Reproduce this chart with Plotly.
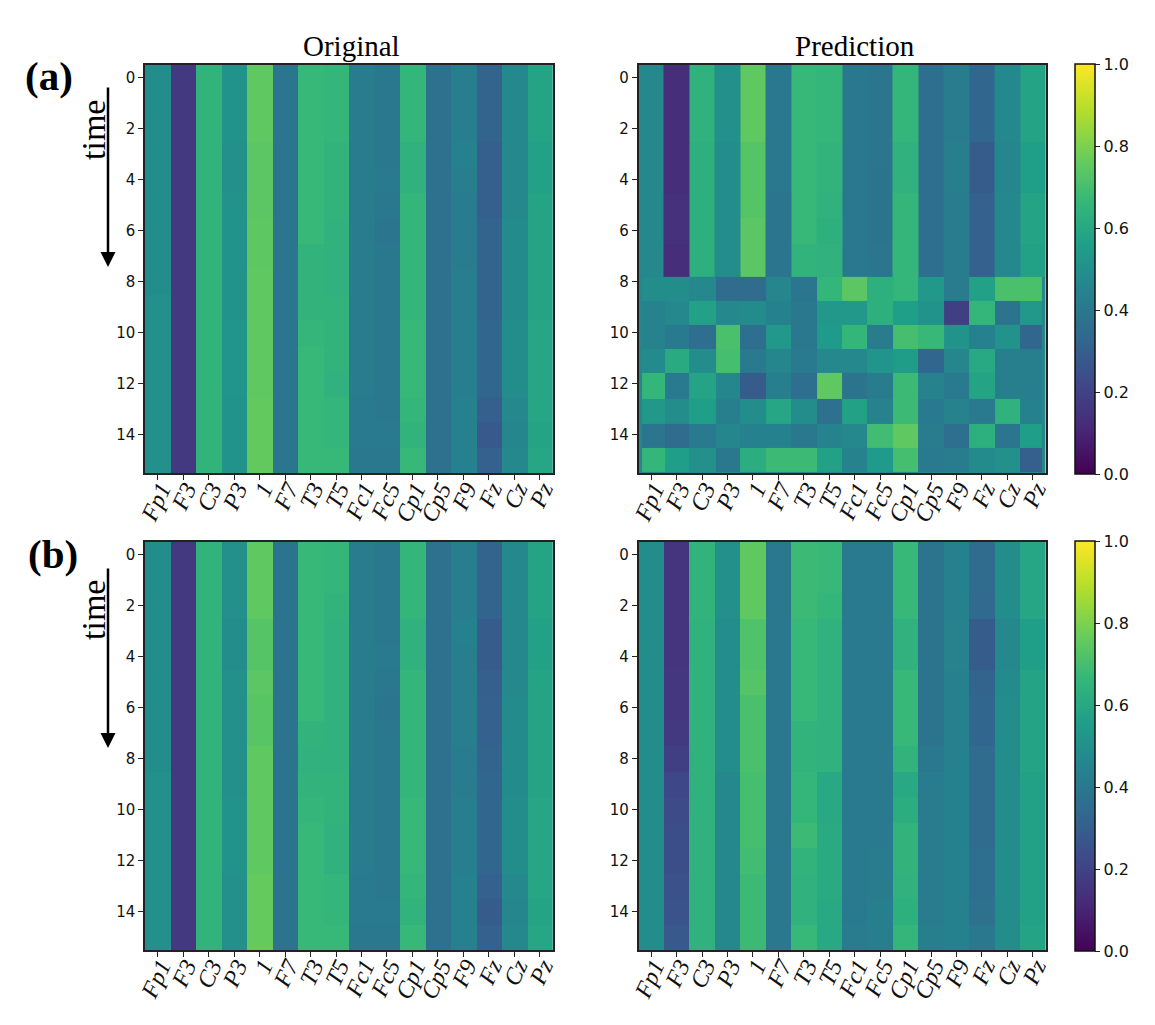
import plotly.graph_objects as go

channels = ["Fp1","F3","C3","P3","1","F7","T3","T5","Fc1","Fc5","Cp1","Cp5","F9","Fz","Cz","Pz"]
time_ticks = [0,2,4,6,8,10,12,14]
cbar_ticks = [0,0.2,0.4,0.6,0.8,1.0]

original_a = [
 [.49,.17,.65,.51,.75,.39,.67,.66,.42,.40,.66,.37,.43,.32,.47,.58],
 [.49,.17,.65,.51,.75,.39,.67,.66,.42,.40,.66,.37,.43,.32,.47,.58],
 [.49,.17,.65,.51,.75,.39,.67,.66,.42,.40,.66,.37,.43,.32,.47,.58],
 [.49,.17,.65,.50,.74,.39,.67,.65,.42,.40,.64,.37,.44,.30,.47,.57],
 [.49,.17,.65,.50,.74,.39,.67,.65,.42,.41,.64,.37,.43,.30,.47,.57],
 [.49,.17,.65,.51,.74,.39,.67,.65,.42,.40,.66,.37,.42,.30,.47,.58],
 [.49,.17,.65,.51,.745,.39,.67,.64,.42,.39,.66,.37,.42,.32,.48,.58],
 [.49,.17,.65,.51,.745,.39,.65,.64,.42,.40,.66,.37,.42,.32,.48,.58],
 [.49,.17,.65,.51,.75,.39,.65,.64,.42,.40,.66,.37,.43,.32,.48,.58],
 [.50,.17,.65,.51,.75,.39,.65,.65,.42,.40,.66,.37,.43,.32,.48,.58],
 [.50,.17,.65,.52,.75,.39,.66,.65,.42,.40,.67,.37,.43,.33,.49,.59],
 [.50,.17,.65,.52,.75,.39,.67,.65,.42,.40,.67,.37,.43,.33,.49,.59],
 [.50,.17,.65,.52,.75,.39,.67,.64,.42,.40,.67,.37,.43,.33,.49,.59],
 [.50,.17,.65,.51,.755,.39,.67,.66,.41,.40,.66,.37,.44,.30,.47,.59],
 [.50,.17,.65,.51,.755,.39,.67,.66,.41,.41,.65,.37,.44,.28,.46,.58],
 [.50,.17,.65,.51,.755,.39,.67,.67,.40,.40,.67,.37,.44,.31,.47,.59],
]

pred_a_upper = [
 [.47,.13,.64,.50,.75,.40,.67,.66,.40,.39,.66,.36,.42,.33,.47,.58],
 [.47,.13,.64,.50,.75,.40,.67,.66,.40,.39,.66,.36,.42,.33,.47,.58],
 [.47,.13,.64,.50,.75,.40,.67,.66,.40,.39,.66,.36,.42,.33,.47,.58],
 [.47,.13,.63,.49,.73,.40,.67,.65,.40,.39,.64,.36,.43,.29,.46,.56],
 [.47,.13,.63,.49,.73,.40,.67,.65,.40,.38,.64,.36,.43,.29,.46,.56],
 [.47,.14,.63,.49,.73,.39,.67,.64,.40,.38,.66,.36,.42,.31,.47,.58],
 [.47,.14,.63,.49,.74,.39,.67,.63,.40,.38,.66,.36,.42,.31,.47,.58],
 [.47,.13,.63,.49,.74,.39,.65,.64,.40,.39,.66,.36,.42,.31,.47,.57],
]
pred_a_lower = [
 [.49,.49,.47,.35,.35,.46,.39,.66,.74,.63,.66,.53,.42,.57,.71,.71],
 [.45,.47,.57,.47,.48,.44,.40,.53,.53,.63,.56,.51,.19,.66,.38,.53],
 [.45,.41,.36,.71,.36,.53,.40,.54,.66,.42,.70,.67,.51,.44,.51,.33],
 [.48,.61,.49,.70,.41,.46,.41,.47,.47,.52,.55,.33,.46,.60,.43,.43],
 [.66,.41,.58,.46,.29,.43,.36,.75,.38,.42,.68,.45,.41,.58,.43,.43],
 [.53,.49,.56,.43,.49,.59,.49,.37,.57,.45,.68,.41,.45,.41,.64,.44],
 [.39,.35,.41,.46,.44,.44,.40,.45,.47,.69,.75,.42,.36,.63,.39,.56],
 [.66,.56,.50,.40,.62,.68,.68,.57,.45,.54,.70,.41,.42,.48,.50,.30],
]
pred_a_upper_rows = [-0.5,0.5,1.5,2.5,3.5,4.5,5.5,6.5,7.81]
pred_a_upper_cols = [-0.5,0.5,1.5,2.5,3.5,4.5,5.5,6.5,7.5,8.5,9.5,10.5,11.5,12.5,13.5,14.5,15.5]
pred_a_lower_rows = [7.81,8.74,9.69,10.64,11.59,12.61,13.56,14.51,15.45]
pred_a_lower_cols = [-0.36,0.55,1.5,2.55,3.5,4.5,5.5,6.5,7.5,8.5,9.5,10.5,11.5,12.5,13.5,14.5,15.35]

original_b = [
 [.49,.17,.65,.50,.75,.38,.67,.66,.42,.40,.66,.37,.43,.32,.47,.58],
 [.49,.17,.65,.50,.75,.38,.67,.66,.42,.40,.66,.37,.43,.32,.47,.58],
 [.49,.17,.65,.50,.75,.38,.67,.65,.42,.40,.66,.37,.43,.32,.47,.58],
 [.49,.17,.65,.49,.73,.38,.67,.64,.42,.40,.64,.37,.44,.29,.47,.57],
 [.49,.17,.65,.49,.73,.38,.67,.64,.42,.41,.64,.37,.43,.29,.47,.57],
 [.49,.17,.65,.50,.74,.38,.67,.64,.42,.40,.66,.37,.43,.30,.47,.58],
 [.49,.17,.65,.50,.735,.38,.67,.64,.42,.39,.66,.37,.43,.31,.48,.58],
 [.49,.17,.65,.50,.735,.38,.65,.64,.42,.40,.66,.37,.43,.31,.48,.58],
 [.49,.17,.65,.50,.75,.38,.64,.64,.42,.40,.66,.37,.42,.32,.48,.58],
 [.50,.17,.65,.50,.75,.38,.65,.65,.42,.40,.66,.37,.42,.33,.48,.58],
 [.50,.17,.65,.51,.75,.38,.66,.65,.42,.40,.67,.37,.43,.33,.49,.59],
 [.50,.17,.65,.51,.75,.38,.67,.64,.42,.40,.67,.37,.43,.33,.49,.59],
 [.50,.17,.65,.51,.75,.38,.67,.64,.42,.40,.67,.37,.43,.33,.49,.59],
 [.50,.17,.65,.50,.76,.38,.67,.66,.41,.40,.66,.37,.44,.31,.47,.59],
 [.50,.17,.65,.50,.76,.38,.67,.66,.41,.41,.65,.37,.44,.29,.46,.58],
 [.50,.17,.65,.50,.76,.38,.67,.67,.40,.40,.67,.37,.44,.31,.47,.59],
]

pred_b = [
 [.49,.15,.65,.50,.75,.40,.68,.67,.41,.41,.67,.38,.44,.35,.49,.59],
 [.49,.15,.65,.50,.75,.40,.68,.67,.41,.41,.67,.38,.44,.35,.49,.59],
 [.49,.15,.65,.50,.75,.40,.68,.66,.41,.41,.67,.38,.44,.34,.49,.59],
 [.49,.15,.64,.49,.72,.40,.67,.64,.41,.41,.64,.38,.45,.29,.47,.56],
 [.49,.15,.64,.49,.72,.40,.67,.64,.41,.41,.64,.38,.45,.29,.47,.56],
 [.49,.16,.64,.49,.73,.40,.67,.64,.41,.41,.67,.38,.44,.32,.48,.58],
 [.49,.16,.64,.49,.71,.40,.67,.64,.41,.41,.67,.38,.44,.33,.49,.58],
 [.49,.17,.64,.49,.71,.40,.65,.64,.41,.41,.67,.38,.44,.33,.49,.58],
 [.49,.19,.64,.49,.71,.40,.65,.64,.41,.41,.65,.40,.44,.35,.49,.58],
 [.49,.22,.64,.47,.70,.40,.66,.60,.41,.41,.60,.42,.44,.35,.49,.57],
 [.49,.23,.64,.47,.70,.40,.66,.60,.41,.41,.62,.42,.44,.35,.49,.57],
 [.49,.24,.64,.47,.70,.40,.68,.61,.41,.41,.65,.42,.44,.35,.49,.57],
 [.49,.24,.64,.47,.69,.40,.65,.61,.41,.42,.65,.42,.44,.36,.49,.57],
 [.49,.25,.64,.47,.68,.40,.64,.61,.41,.42,.64,.42,.44,.36,.49,.57],
 [.49,.26,.64,.47,.68,.40,.64,.60,.41,.43,.63,.42,.44,.37,.49,.57],
 [.49,.28,.64,.47,.68,.40,.67,.60,.42,.43,.66,.43,.44,.40,.49,.58],
]

W, H = 1155, 1025
SERIF = "Liberation Serif"
SANS = "DejaVu Sans"
panels = [(145, 552.5, 65, 473), (638.5, 1045.5, 65, 473),
          (145, 552.5, 542, 950), (638.5, 1045.5, 542, 950)]

def fx(px): return px / W
def fy(py): return 1 - py / H

fig = go.Figure()
layout = dict(width=W, height=H, margin=dict(l=0, r=0, t=0, b=0, autoexpand=False),
              paper_bgcolor="white", plot_bgcolor="#25878c", showlegend=False,
              annotations=[], font=dict(family=SANS, color="#111"))

for i, (x0, x1, y0, y1) in enumerate(panels, start=1):
    layout[f"xaxis{i}"] = dict(domain=[fx(x0), fx(x1)], range=[-0.5, 15.5], anchor=f"y{i}",
        tickmode="array", tickvals=list(range(16)), ticktext=channels, tickangle=-65,
        tickfont=dict(family=SERIF, size=24, style="italic", color="#111"),
        ticklabelstandoff=-14, ticklabelshift=3,
        ticks="outside", ticklen=5, tickwidth=1, tickcolor="#222",
        showgrid=False, zeroline=False, showline=True, mirror=True, linecolor="#222", linewidth=1.5)
    layout[f"yaxis{i}"] = dict(domain=[fy(y1), fy(y0)], range=[15.5, -0.5], anchor=f"x{i}",
        tickmode="array", tickvals=time_ticks, ticktext=[str(t) for t in time_ticks],
        tickfont=dict(family=SANS, size=15, color="#111"),
        ticks="outside", ticklen=5, tickwidth=1, tickcolor="#222",
        showgrid=False, zeroline=False, showline=True, mirror=True, linecolor="#222", linewidth=1.5)

def heat(z, ax, x=None, y=None, cbar_y=None):
    kw = dict(z=z, zmin=0, zmax=1, colorscale="Viridis", xaxis=f"x{ax}", yaxis=f"y{ax}", showscale=False)
    if x is not None: kw["x"] = x
    if y is not None: kw["y"] = y
    if cbar_y is not None:
        kw["showscale"] = True
        kw["colorbar"] = dict(x=fx(1074.7), xanchor="left", xpad=0, y=cbar_y, yanchor="middle", ypad=0,
            len=410 / H, lenmode="fraction", thickness=20, thicknessmode="pixels",
            outlinecolor="#111", outlinewidth=1.5, tickmode="array", tickvals=cbar_ticks,
            ticktext=[f"{t:.1f}" for t in cbar_ticks], ticks="outside", ticklen=5, tickwidth=1,
            tickcolor="#222", tickfont=dict(family=SANS, size=16, color="#111"))
    return go.Heatmap(**kw)

fig.add_trace(heat(original_a, 1))
fig.add_trace(heat(pred_a_upper, 2, x=pred_a_upper_cols, y=pred_a_upper_rows, cbar_y=fy(269)))
fig.add_trace(heat(pred_a_lower, 2, x=pred_a_lower_cols, y=pred_a_lower_rows))
fig.add_trace(heat(original_b, 3))
fig.add_trace(heat(pred_b, 4, cbar_y=fy(746)))

def text(s, px, py, size, bold=False, angle=0):
    layout["annotations"].append(dict(text=f"<b>{s}</b>" if bold else s, x=fx(px), y=fy(py),
        xref="paper", yref="paper", showarrow=False, xanchor="center", yanchor="middle",
        textangle=angle, font=dict(family=SERIF, size=size, color="black")))

text("Original", 351, 46, 29)
text("Prediction", 854.5, 46, 29)
text("(a)", 49, 76, 41, bold=True)
text("(b)", 53, 554, 41, bold=True)
text("time", 93, 130, 34, angle=-90)
text("time", 93, 610, 34, angle=-90)

for top, tip in ((86, 267), (567, 748)):
    layout["annotations"].append(dict(text="", x=fx(108), y=fy(tip), xref="paper", yref="paper",
        ax=0, ay=top - tip, axref="pixel", ayref="pixel", showarrow=True,
        arrowhead=2, arrowsize=1.2, arrowwidth=2.5, arrowcolor="black"))

fig.update_layout(**layout)
fig.write_html("out.html", config={"displayModeBar": False},
               post_script="document.body.style.margin='0';")
